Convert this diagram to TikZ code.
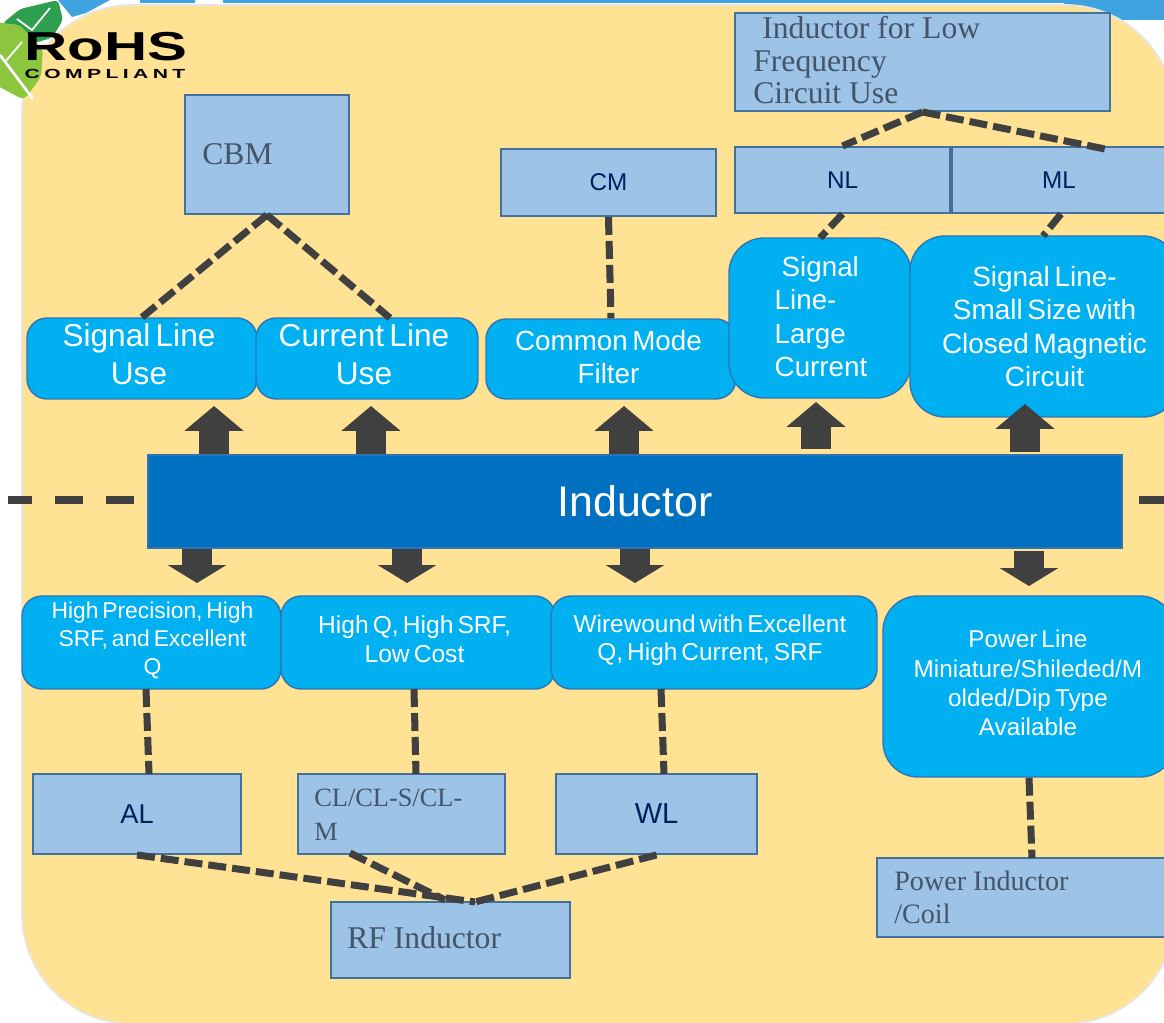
\documentclass[tikz,border=0pt]{standalone}
\usepackage{fontspec}
\setmainfont{Liberation Sans}[WordSpace=0.6]
\newfontfamily\serifface{Liberation Serif}
\usetikzlibrary{arrows.meta}
\definecolor{padyellow}{HTML}{FFE293}
\definecolor{padedge}{HTML}{E7E6E6}
\definecolor{bandblue}{HTML}{3FA3E0}
\definecolor{paleblue}{HTML}{9DC3E6}
\definecolor{paleedge}{HTML}{41719C}
\definecolor{cyanfill}{HTML}{00B0F0}
\definecolor{cyanedge}{HTML}{2E75B6}
\definecolor{mainblue}{HTML}{0070C0}
\definecolor{darkgrey}{HTML}{404040}
\definecolor{slatetext}{HTML}{44546A}
\definecolor{navytext}{HTML}{002060}
\definecolor{leafdark}{HTML}{2E9E4F}
\definecolor{leaflight}{HTML}{8CC63F}
\tikzset{
  palebox/.style={draw=paleedge, fill=paleblue, line width=1.1pt, inner sep=0pt},
  cyanbox/.style={draw=cyanedge, fill=cyanfill, line width=.8pt, rounded corners=.4cm, inner sep=0pt},
  bigcyan/.style={cyanbox, rounded corners=.7cm},
  cyantext/.style={text=white, align=center, inner sep=0pt},
  link/.style={draw=darkgrey, line width=4pt, dash pattern=on .36cm off .12cm},
  longlink/.style={link, dash pattern=on .56cm off .46cm},
  slate/.style={text=slatetext, anchor=west, align=left, inner sep=0pt,
    font=\serifface\fontsize{18}{18.5}\selectfont},
  navy/.style={text=navytext},
  blockup/.style={draw=darkgrey, line width=.6cm, -{Triangle[width=1.16cm,length=.5cm]}},
  blockdown/.style={draw=darkgrey, line width=.6cm, -{Triangle[width=1.16cm,length=.36cm]}}
}
\begin{document}
\begin{tikzpicture}[x=0.02cm, y=-0.02cm]
    \useasboundingbox (0,0) rectangle (1164,1023);
    \clip (0,0) rectangle (1164,1023);

    % Blue band behind the pad
    \fill[bandblue] (58,0) -- (110,0) -- (86,13) -- (72,17) -- cycle;
    \fill[bandblue] (140,0) rectangle (195,3);
    \fill[bandblue] (223,0) rectangle (1164,3);
    \fill[bandblue] (1064,0) rectangle (1164,20);

    % Yellow pad
    \draw[draw=padedge, fill=padyellow, line width=1pt, rounded corners=2.2cm] (22,5) rectangle (1175,1024);

    % Logo
    \fill[leafdark, rounded corners=.08cm] (2,24) -- (20,9) -- (58,0) -- (63,20) -- (52,38) -- (30,44) -- cycle;
    \draw[white, line width=1pt] (17,19) -- (32,30) -- (50,8);
    \fill[leaflight, rounded corners=.1cm] (-6,22) -- (20,25) -- (43,50) -- (41,77) -- (24,100) -- (-6,84) -- cycle;
    \draw[white, line width=1.5pt] (0,55) -- (33,99);
    \draw[white, line width=1pt] (5,62) -- (22,42);
    \node[inner sep=0pt, font=\bfseries\fontsize{23}{23}\selectfont] (rohs) at (106,47) {\scalebox{1.48}[1]{RoHS}};
    \node[inner sep=0pt, font=\bfseries\fontsize{7.5}{7.5}\selectfont] (compliant) at (105,74) {\scalebox{1.6}[1]{\addfontfeature{LetterSpace=21}COMPLIANT}};

    % Upper pale boxes
    \node[palebox, minimum width=3.28cm, minimum height=2.38cm] (cbm) at (267,154.5) {};
    \node[palebox, minimum width=4.30cm, minimum height=1.34cm, navy, font=\fontsize{13.8}{16}\selectfont] (cm) at (608.5,182.5) {CM};
    \node[palebox, minimum width=7.50cm, minimum height=1.96cm] (lowfreq) at (922.5,62) {};
    \node[palebox, minimum width=4.30cm, minimum height=1.32cm, navy, font=\fontsize{13.8}{16}\selectfont] (nl) at (842.5,180) {NL};
    \node[palebox, minimum width=4.36cm, minimum height=1.32cm] (ml) at (1061,180) {};
    \node[navy, inner sep=0pt, font=\fontsize{13.8}{16}\selectfont] (mltext) at (1059,180) {ML};

    % Upper cyan boxes
    \node[cyanbox, minimum width=4.60cm, minimum height=1.62cm] (sigline) at (142,358.5) {};
    \node[cyanbox, minimum width=4.44cm, minimum height=1.62cm] (curline) at (367,358.5) {};
    \node[cyanbox, minimum width=5.00cm, minimum height=1.60cm] (cmfilter) at (611,359) {};
    \node[bigcyan, minimum width=3.64cm, minimum height=3.20cm] (siglarge) at (820,318) {};
    \node[bigcyan, minimum width=5.36cm, minimum height=3.62cm] (sigsmall) at (1044,326.5) {};

    % Lower cyan boxes
    \node[cyanbox, minimum width=5.18cm, minimum height=1.86cm] (highprec) at (151.5,642.5) {};
    \node[cyanbox, minimum width=5.48cm, minimum height=1.86cm] (highq) at (418,642.5) {};
    \node[cyanbox, minimum width=6.52cm, minimum height=1.86cm] (wirewound) at (714,642.5) {};
    \node[bigcyan, minimum width=5.84cm, minimum height=3.62cm] (powerline) at (1029,686.5) {};

    % Lower pale boxes
    \node[palebox, minimum width=4.16cm, minimum height=1.60cm, navy, font=\fontsize{15.5}{18}\selectfont] (al) at (137,814) {AL};
    \node[palebox, minimum width=4.14cm, minimum height=1.60cm] (cl) at (401.5,814) {};
    \node[palebox, minimum width=4.02cm, minimum height=1.60cm, navy, font=\fontsize{16.5}{18}\selectfont] (wl) at (656.5,814) {WL};
    \node[palebox, minimum width=4.78cm, minimum height=1.52cm] (rf) at (450.5,940) {};
    \node[palebox, minimum width=5.96cm, minimum height=1.58cm] (powercoil) at (1026,897.5) {};

    % Box texts
    \node[slate] (cbmtext) at (202,154) {CBM};
    \node[slate] (lowfreqtext) at (753,60.5) {\hspace{.18cm}Inductor for Low\\Frequency\\Circuit Use};
    \node[slate, font=\serifface\fontsize{15}{19.2}\selectfont] (cltext) at (314,815) {CL/CL-S/CL-\\M};
    \node[slate] (rftext) at (347,938) {RF Inductor};
    \node[slate, font=\serifface\fontsize{16}{19}\selectfont] (coiltext) at (894,897.5) {Power Inductor\\/Coil};
    \node[cyantext, font=\fontsize{18}{21.5}\selectfont] (siglinetext) at (139,354.5) {Signal Line\\Use};
    \node[cyantext, font=\fontsize{18}{21.5}\selectfont] (curlinetext) at (364,354.5) {Current Line\\Use};
    \node[cyantext, font=\fontsize{15.8}{18.8}\selectfont] (cmfiltertext) at (608.5,357.5) {Common Mode\\Filter};
    \node[cyantext, align=left, font=\fontsize{15.8}{19}\selectfont] (siglargetext) at (821,316.5) {\hspace{.14cm}Signal\\Line-\\Large\\Current};
    \node[cyantext, font=\fontsize{15.9}{19}\selectfont] (sigsmalltext) at (1044.5,326.5) {Signal Line-\\Small Size with\\Closed Magnetic\\Circuit};
    \node[cyantext, font=\fontsize{13}{16}\selectfont] (highprectext) at (152.5,640) {High Precision, High\\SRF, and Excellent\\Q};
    \node[cyantext, font=\fontsize{14}{16.4}\selectfont] (highqtext) at (414.5,639.5) {High Q, High SRF,\\Low Cost};
    \node[cyantext, font=\fontsize{13.9}{16}\selectfont] (wirewoundtext) at (710,640.5) {Wirewound with Excellent\\Q, High Current, SRF};
    \node[cyantext, font=\fontsize{13.85}{16.6}\selectfont] (powerlinetext) at (1028,683) {Power Line\\Miniature/Shileded/M\\olded/Dip Type\\Available};

    % Free ends of the dashed lines
    \coordinate (curtop) at (390,318);
    \coordinate (mltop) at (1105,149);
    \coordinate (largetop) at (820,238);
    \coordinate (smalltop) at (1043,236);
    \coordinate (altop) at (149,774);
    \coordinate (cltop) at (416,774);
    \coordinate (wltop) at (664,774);
    \coordinate (hpfoot) at (146,689);
    \coordinate (hqfoot) at (414,689);
    \coordinate (wwfoot) at (661,689);
    \coordinate (coiltop) at (1032,858);
    \coordinate (clfoot) at (350,853);
    \coordinate (rfjoin) at (475,902);
    \coordinate (rfmid) at (445,900);
    \coordinate (leftend) at (8,500);
    \coordinate (rightend) at (1170,500);

    % Dashed lines
    \draw[link] (cbm.south) -- (sigline.north);
    \draw[link] (cbm.south) -- (curtop);
    \draw[link] (cm.south) -- (cmfilter.north);
    \draw[link] (lowfreq.south) -- (nl.north);
    \draw[link] (lowfreq.south) -- (mltop);
    \draw[link] (nl.south) -- (largetop);
    \draw[link] (ml.south) -- (smalltop);
    \draw[link] (hpfoot) -- (altop);
    \draw[link] (hqfoot) -- (cltop);
    \draw[link] (wwfoot) -- (wltop);
    \draw[link] (powerline.south) -- (coiltop);
    \draw[link] (al.south) -- (rfjoin);
    \draw[link] (clfoot) -- (rfmid);
    \draw[link] (wl.south) -- (rfjoin);

    % Main bar
    \node[draw=cyanedge, fill=mainblue, line width=.8pt, minimum width=19.48cm, minimum height=1.86cm,
        text=white, font=\fontsize{24.4}{26}\selectfont] (inductor) at (635,501.5) {Inductor};
    \draw[longlink, dash phase=.76cm] (inductor.west |- leftend) -- (leftend);
    \draw[longlink, dash phase=.70cm] (inductor.east |- rightend) -- (rightend);

    % Tips of the block arrows
    \coordinate (upone) at (214,406);
    \coordinate (uptwo) at (371,406);
    \coordinate (upthree) at (624,406);
    \coordinate (upfour) at (816,402);
    \coordinate (upfive) at (1025,404);
    \coordinate (downone) at (197,583);
    \coordinate (downtwo) at (407,583);
    \coordinate (downthree) at (635,583);
    \coordinate (downfour) at (1029,586);

    % Block arrows
    \draw[blockup] (upone |- inductor.north) -- (upone);
    \draw[blockup] (uptwo |- inductor.north) -- (uptwo);
    \draw[blockup] (upthree |- inductor.north) -- (upthree);
    \draw[blockup, shorten <=.1cm] (upfour |- inductor.north) -- (upfour);
    \draw[blockup, shorten <=.04cm] (upfive |- inductor.north) -- (upfive);
    \draw[blockdown] (downone |- inductor.south) -- (downone);
    \draw[blockdown] (downtwo |- inductor.south) -- (downtwo);
    \draw[blockdown] (downthree |- inductor.south) -- (downthree);
    \draw[blockdown, shorten <=.04cm] (downfour |- inductor.south) -- (downfour);
\end{tikzpicture}
\end{document}
